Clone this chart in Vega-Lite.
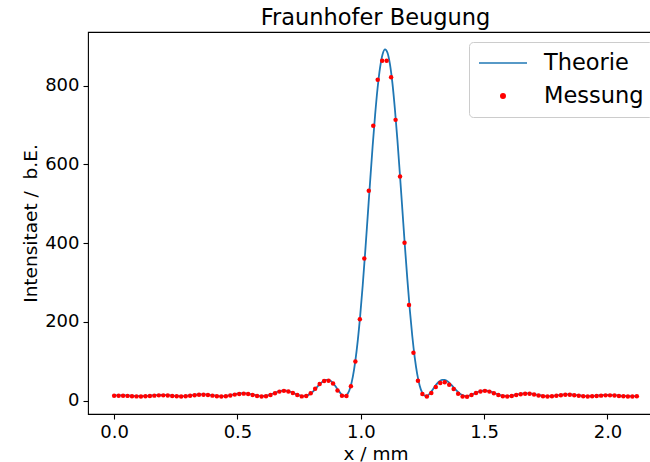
{
  "$schema": "https://vega.github.io/schema/vega-lite/v6.json",
  "width": 575,
  "height": 382,
  "autosize": {"type": "none"},
  "padding": {"left": 88, "top": 32, "right": -13, "bottom": 48},
  "title": {"text": "Fraunhofer Beugung", "fontSize": 22.5, "fontWeight": "normal", "anchor": "middle", "offset": 3, "color": "black", "font": "DejaVu Sans"},
  "datasets": {
    "theorie": [
      {"x":0,"y":13.6},{"x":0.0181,"y":14.0},{"x":0.0362,"y":14.0},{"x":0.0543,"y":13.5},{"x":0.0724,"y":12.8},{"x":0.0906,"y":12.2},{"x":0.1087,"y":12.0},{"x":0.1268,"y":12.4},{"x":0.1449,"y":13.2},{"x":0.1630,"y":14.1},
      {"x":0.1811,"y":14.8},{"x":0.1992,"y":14.8},{"x":0.2173,"y":14.2},{"x":0.2354,"y":13.2},{"x":0.2535,"y":12.3},{"x":0.2717,"y":12.0},{"x":0.2898,"y":12.5},{"x":0.3079,"y":13.6},{"x":0.3260,"y":15.0},{"x":0.3441,"y":16.1},
      {"x":0.3622,"y":16.3},{"x":0.3803,"y":15.5},{"x":0.3984,"y":14.1},{"x":0.4165,"y":12.7},{"x":0.4346,"y":12.0},{"x":0.4528,"y":12.6},{"x":0.4709,"y":14.3},{"x":0.4890,"y":16.7},{"x":0.5071,"y":18.5},{"x":0.5252,"y":19.2},
      {"x":0.5433,"y":18.1},{"x":0.5614,"y":15.8},{"x":0.5795,"y":13.4},{"x":0.5976,"y":12.0},{"x":0.6157,"y":12.8},{"x":0.6339,"y":15.9},{"x":0.6520,"y":20.3},{"x":0.6701,"y":24.3},{"x":0.6882,"y":26.2},{"x":0.7063,"y":24.8},
      {"x":0.7244,"y":20.6},{"x":0.7425,"y":15.5},
      {"x":0.7666,"y":12.0},{"x":0.7766,"y":12.4},{"x":0.7867,"y":14.5},{"x":0.7967,"y":18.5},{"x":0.8068,"y":24.0},{"x":0.8168,"y":30.7},{"x":0.8269,"y":37.7},{"x":0.8369,"y":44.4},{"x":0.8469,"y":49.7},{"x":0.8570,"y":52.9},
      {"x":0.8670,"y":53.3},{"x":0.8771,"y":50.7},{"x":0.8871,"y":45.1},{"x":0.8972,"y":37.1},{"x":0.9072,"y":28.1},{"x":0.9173,"y":19.5},{"x":0.9273,"y":13.5},{"x":0.9373,"y":12.3},{"x":0.9474,"y":18.4},{"x":0.9574,"y":33.9},
      {"x":0.9675,"y":60.8},{"x":0.9775,"y":100.2},{"x":0.9876,"y":152.6},{"x":0.9976,"y":217.4},{"x":1.0077,"y":293.2},{"x":1.0177,"y":377.4},{"x":1.0277,"y":466.9},{"x":1.0378,"y":557.8},{"x":1.0478,"y":645.3},{"x":1.0579,"y":725.3},
      {"x":1.0679,"y":793.2},{"x":1.0780,"y":845.4},{"x":1.0880,"y":879.0},{"x":1.0981,"y":892.0},{"x":1.1081,"y":883.3},{"x":1.1182,"y":853.7},{"x":1.1282,"y":805.6},{"x":1.1382,"y":739.9},{"x":1.1483,"y":662.1},{"x":1.1583,"y":575.6},
      {"x":1.1684,"y":485.3},{"x":1.1784,"y":394.9},{"x":1.1885,"y":309.4},{"x":1.1985,"y":231.7},{"x":1.2086,"y":164.4},{"x":1.2186,"y":109.6},{"x":1.2286,"y":67.8},{"x":1.2387,"y":38.4},{"x":1.2487,"y":20.7},{"x":1.2588,"y":12.9},
      {"x":1.2688,"y":12.8},{"x":1.2789,"y":18.0},{"x":1.2889,"y":26.3},{"x":1.2990,"y":35.4},{"x":1.3090,"y":43.7},{"x":1.3190,"y":49.8},{"x":1.3291,"y":53.0},{"x":1.3391,"y":53.2},{"x":1.3492,"y":50.5},{"x":1.3592,"y":45.6},
      {"x":1.3693,"y":39.1},{"x":1.3793,"y":32.1},{"x":1.3894,"y":25.2},{"x":1.3994,"y":19.5},{"x":1.4094,"y":15.2},{"x":1.4195,"y":12.7},{"x":1.4295,"y":12.0},
      {"x":1.4488,"y":15.5},{"x":1.4669,"y":20.6},{"x":1.4850,"y":24.8},{"x":1.5031,"y":26.2},{"x":1.5212,"y":24.3},{"x":1.5394,"y":20.3},{"x":1.5575,"y":15.9},{"x":1.5756,"y":12.8},{"x":1.5937,"y":12.0},{"x":1.6118,"y":13.1},
      {"x":1.6299,"y":15.5},{"x":1.6480,"y":17.8},{"x":1.6661,"y":19.1},{"x":1.6842,"y":18.7},{"x":1.7023,"y":16.9},{"x":1.7205,"y":14.6},{"x":1.7386,"y":12.7},{"x":1.7567,"y":12.0},{"x":1.7748,"y":12.5},{"x":1.7929,"y":13.9},
      {"x":1.8110,"y":15.3},{"x":1.8291,"y":16.2},{"x":1.8472,"y":16.1},{"x":1.8653,"y":15.2},{"x":1.8834,"y":13.8},{"x":1.9016,"y":12.6},{"x":1.9197,"y":12.0},{"x":1.9378,"y":12.3},{"x":1.9559,"y":13.1},{"x":1.9740,"y":14.1},
      {"x":1.9921,"y":14.8},{"x":2.0102,"y":14.8},{"x":2.0283,"y":14.2},{"x":2.0464,"y":13.3},{"x":2.0645,"y":12.5},{"x":2.0827,"y":12.0},{"x":2.1008,"y":12.1},{"x":2.1189,"y":12.7}
    ],
    "messung": [
      {"x":0,"y":12.6},{"x":0.0181,"y":13.0},{"x":0.0362,"y":13.0},{"x":0.0543,"y":12.5},{"x":0.0724,"y":11.8},{"x":0.0906,"y":11.2},{"x":0.1087,"y":11.0},{"x":0.1268,"y":11.4},{"x":0.1449,"y":12.2},{"x":0.1630,"y":13.1},
      {"x":0.1811,"y":13.8},{"x":0.1992,"y":13.8},{"x":0.2173,"y":13.2},{"x":0.2354,"y":12.2},{"x":0.2535,"y":11.3},{"x":0.2717,"y":11.0},{"x":0.2898,"y":11.5},{"x":0.3079,"y":12.6},{"x":0.3260,"y":14.0},{"x":0.3441,"y":15.1},
      {"x":0.3622,"y":15.3},{"x":0.3803,"y":14.5},{"x":0.3984,"y":13.1},{"x":0.4165,"y":11.7},{"x":0.4346,"y":11.0},{"x":0.4528,"y":11.6},{"x":0.4709,"y":13.3},{"x":0.4890,"y":15.7},{"x":0.5071,"y":17.5},{"x":0.5252,"y":18.2},
      {"x":0.5433,"y":17.1},{"x":0.5614,"y":14.8},{"x":0.5795,"y":12.4},{"x":0.5976,"y":11.0},{"x":0.6157,"y":11.8},{"x":0.6339,"y":14.9},{"x":0.6520,"y":19.3},{"x":0.6701,"y":23.3},{"x":0.6882,"y":25.2},{"x":0.7063,"y":23.8},
      {"x":0.7244,"y":19.6},{"x":0.7425,"y":14.5},{"x":0.7606,"y":11.2},{"x":0.7787,"y":12.4},{"x":0.7968,"y":19.3},{"x":0.8150,"y":30.6},{"x":0.8331,"y":42.7},{"x":0.8512,"y":50.5},{"x":0.8693,"y":51.0},{"x":0.8874,"y":44},
      {"x":0.9055,"y":26},{"x":0.9236,"y":13},{"x":0.9417,"y":12},{"x":0.9598,"y":37},{"x":0.9779,"y":100},{"x":0.9961,"y":207},{"x":1.0142,"y":361},{"x":1.0323,"y":533},{"x":1.0504,"y":698},{"x":1.0685,"y":815},
      {"x":1.0866,"y":863},{"x":1.1047,"y":863},{"x":1.1228,"y":821},{"x":1.1409,"y":713},{"x":1.1590,"y":569},{"x":1.1772,"y":401},{"x":1.1953,"y":243},{"x":1.2134,"y":122},{"x":1.2315,"y":51},{"x":1.2496,"y":17},
      {"x":1.2677,"y":11},{"x":1.2858,"y":20},{"x":1.3039,"y":35},{"x":1.3220,"y":45},{"x":1.3401,"y":47},{"x":1.3583,"y":41},{"x":1.3764,"y":30},{"x":1.3945,"y":18},{"x":1.4126,"y":11},{"x":1.4307,"y":10.5},
      {"x":1.4488,"y":14.5},{"x":1.4669,"y":19.6},{"x":1.4850,"y":23.8},{"x":1.5031,"y":25.2},{"x":1.5212,"y":23.3},{"x":1.5394,"y":19.3},{"x":1.5575,"y":14.9},{"x":1.5756,"y":11.8},{"x":1.5937,"y":11.0},{"x":1.6118,"y":12.1},
      {"x":1.6299,"y":14.5},{"x":1.6480,"y":16.8},{"x":1.6661,"y":18.1},{"x":1.6842,"y":17.7},{"x":1.7023,"y":15.9},{"x":1.7205,"y":13.6},{"x":1.7386,"y":11.7},{"x":1.7567,"y":11.0},{"x":1.7748,"y":11.5},{"x":1.7929,"y":12.9},
      {"x":1.8110,"y":14.3},{"x":1.8291,"y":15.2},{"x":1.8472,"y":15.1},{"x":1.8653,"y":14.2},{"x":1.8834,"y":12.8},{"x":1.9016,"y":11.6},{"x":1.9197,"y":11.0},{"x":1.9378,"y":11.3},{"x":1.9559,"y":12.1},{"x":1.9740,"y":13.1},
      {"x":1.9921,"y":13.8},{"x":2.0102,"y":13.8},{"x":2.0283,"y":13.2},{"x":2.0464,"y":12.3},{"x":2.0645,"y":11.5},{"x":2.0827,"y":11.0},{"x":2.1008,"y":11.1},{"x":2.1189,"y":11.7}
    ]
  },
  "encoding": {
    "x": {"field": "x", "type": "quantitative", "scale": {"domain": [-0.106, 2.225], "nice": false, "zero": false},
      "axis": {"values": [0, 0.5, 1, 1.5, 2], "format": ".1f", "title": "x / mm", "titlePadding": 3}},
    "y": {"field": "y", "type": "quantitative", "scale": {"domain": [-33.5, 936], "nice": false, "zero": false},
      "axis": {"values": [0, 200, 400, 600, 800], "title": "Intensitaet / \u00a0b.E.", "titlePadding": 4}}
  },
  "layer": [
    {
      "data": {"name": "theorie"},
      "mark": {"type": "line", "strokeWidth": 1.8, "interpolate": "monotone"},
      "encoding": {
        "color": {"datum": "Theorie", "type": "nominal",
          "scale": {"domain": ["Theorie", "Messung"], "range": ["#1f77b4", "#ff0000"]},
          "legend": {"title": null}}
      }
    },
    {
      "data": {"name": "messung"},
      "mark": {"type": "point", "filled": true, "opacity": 1},
      "encoding": {
        "color": {"datum": "Messung", "type": "nominal",
          "scale": {"domain": ["Theorie", "Messung"], "range": ["#1f77b4", "#ff0000"]},
          "legend": {"title": null}},
        "shape": {"datum": "Messung", "type": "nominal",
          "scale": {"domain": ["Theorie", "Messung"], "range": ["stroke", "circle"]},
          "legend": {"title": null}},
        "size": {"datum": "Messung", "type": "nominal",
          "scale": {"type": "ordinal", "domain": ["Theorie", "Messung"], "range": [2304, 20]},
          "legend": {"title": null}}
      }
    }
  ],
  "config": {
    "font": "DejaVu Sans",
    "background": "white",
    "view": {"stroke": "black", "strokeWidth": 1.1},
    "axis": {
      "domain": false,
      "grid": false,
      "tickColor": "black",
      "tickSize": 5,
      "tickWidth": 1.1,
      "labelFontSize": 18,
      "labelColor": "black",
      "labelPadding": 4,
      "titleFontSize": 18.5,
      "titleFontWeight": "normal",
      "titleColor": "black"
    },
    "legend": {
      "orient": "none",
      "legendX": 381,
      "legendY": 10,
      "padding": 9,
      "fillColor": "rgba(255,255,255,0.8)",
      "strokeColor": "#cccccc",
      "cornerRadius": 4,
      "labelFontSize": 22.5,
      "labelColor": "black",
      "labelOffset": 16,
      "rowPadding": 9,
      "clipHeight": 24,
      "symbolOpacity": 1
    }
  }
}
